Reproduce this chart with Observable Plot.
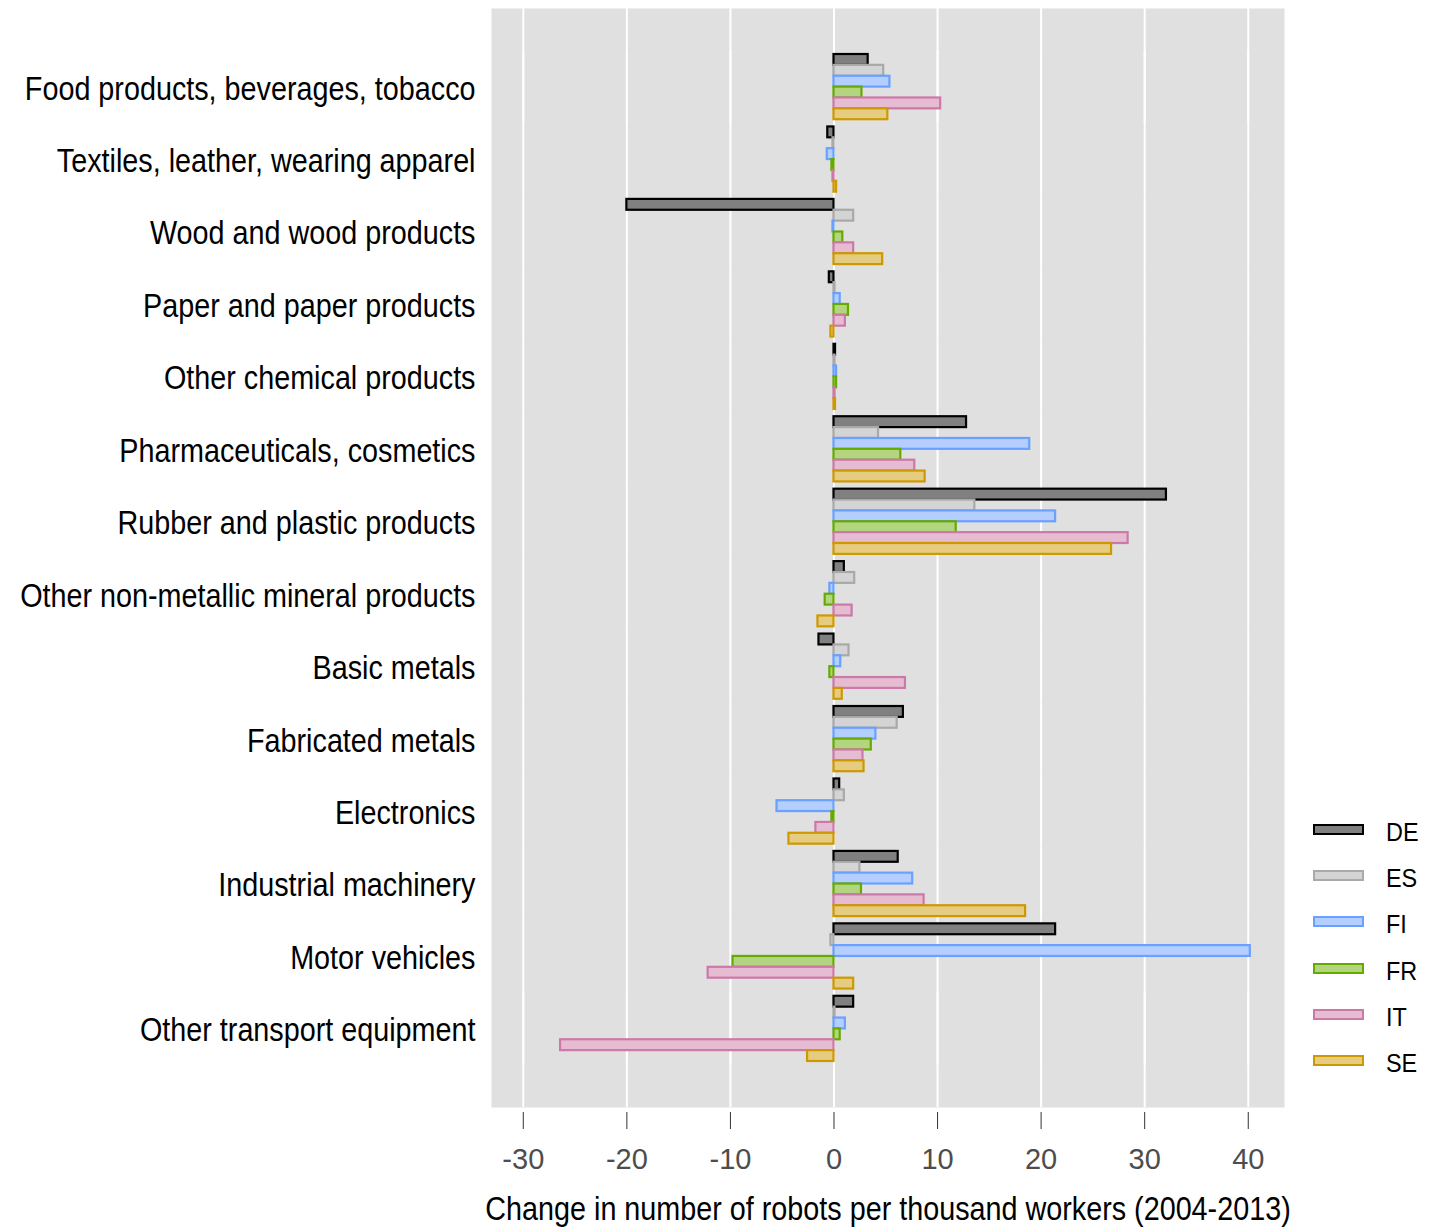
<!DOCTYPE html>
<html><head><meta charset="utf-8">
<script src="https://cdn.jsdelivr.net/npm/d3@7"></script>
<script src="https://cdn.jsdelivr.net/npm/@observablehq/plot@0.6"></script>
<style>
body{margin:0;background:#fff;}
#wrap{position:relative;width:1437px;height:1230px;font-family:"Liberation Sans",Arial,sans-serif;}
#chart{position:absolute;left:0;top:0;}
#legend{position:absolute;left:1313px;top:806px;}
.item{display:flex;align-items:center;height:46.3px;}
.key{box-sizing:border-box;width:51px;height:11px;border:2px solid;margin-right:22px;}
.lab{font-size:26px;color:#000;transform:scaleX(0.9);transform-origin:left center;position:relative;top:3px;}
</style></head><body><div id="wrap"><div id="chart"></div><div id="legend"></div></div>
<script>
const categories = ["Food products, beverages, tobacco","Textiles, leather, wearing apparel","Wood and wood products","Paper and paper products","Other chemical products","Pharmaceuticals, cosmetics","Rubber and plastic products","Other non-metallic mineral products","Basic metals","Fabricated metals","Electronics","Industrial machinery","Motor vehicles","Other transport equipment"];
const countries = ["DE","ES","FI","FR","IT","SE"];
const strokeColors = ["#000000","#a9a9a9","#6aa0ff","#66aa00","#cc79a7","#cc9900"];
const fillColors = ["#808080","#d4d4d4","#b4cfff","#b3d580","#e6bcd3","#e6cc80"];
const xTicks = [-30,-20,-10,0,10,20,30,40];
const DE = [3.3,-0.6,-20.0,-0.45,0.15,12.8,32.1,1.0,-1.45,6.7,0.55,6.2,21.4,1.9];
const ES = [4.8,-0.1,1.9,0.1,0.1,4.3,13.6,2.0,1.45,6.1,1.0,2.5,-0.3,0.1];
const FI = [5.4,-0.65,-0.1,0.6,0.25,18.9,21.4,-0.4,0.65,4.05,-5.5,7.6,40.2,1.1];
const FR = [2.7,-0.2,0.85,1.4,0.25,6.45,11.8,-0.85,-0.4,3.6,-0.2,2.65,-9.75,0.6];
const IT = [10.3,-0.1,1.9,1.1,0.1,7.8,28.4,1.75,6.9,2.8,-1.75,8.7,-12.15,-26.4];
const SE = [5.2,0.25,4.7,-0.3,0.15,8.8,26.8,-1.55,0.8,2.9,-4.35,18.5,1.9,-2.55];
const xTitle = "Change in number of robots per thousand workers (2004-2013)";

const series = [DE, ES, FI, FR, IT, SE];
const rows = categories.flatMap((c, i) => countries.map((k, j) => ({category: c, country: k, value: series[j][i]})));
const strokeOf = Object.fromEntries(countries.map((k, j) => [k, strokeColors[j]]));
const fillOf = Object.fromEntries(countries.map((k, j) => [k, fillColors[j]]));

const W = 1437, H = 1230, mT = 8, mB = 123, mL = 491, mR = 153;
const fyOuter = 0.585;
const fyStep = (H - mT - mB) / (categories.length + 2 * fyOuter);
const outerPx = fyOuter * fyStep;
const firstGrid = xTicks.map(t => ({x: t, cat: categories[0]}));
const lastGrid = xTicks.map(t => ({x: t, cat: categories[categories.length - 1]}));
const narrow = 0.885;

const plot = Plot.plot({
  width: W, height: H,
  marginLeft: mL, marginRight: mR, marginTop: mT, marginBottom: mB,
  style: {fontFamily: '"Liberation Sans",Arial,sans-serif', background: "transparent"},
  x: {domain: [-33.07, 43.5]},
  fy: {domain: categories, paddingInner: 0, paddingOuter: fyOuter, round: false},
  y: {domain: countries, paddingInner: 0, paddingOuter: 1 / 3, round: false, axis: null},
  color: {type: "identity"},
  marks: [
    Plot.frame({facet: "super", fill: "#e0e0e0", stroke: "none", insetTop: -outerPx, insetBottom: -outerPx}),
    Plot.gridX({ticks: xTicks, stroke: "#ffffff", strokeOpacity: 1, strokeWidth: 2}),
    Plot.ruleX(firstGrid, {x: "x", fy: "cat", insetTop: -outerPx, stroke: "#ffffff", strokeWidth: 2}),
    Plot.ruleX(lastGrid, {x: "x", fy: "cat", insetBottom: -outerPx, stroke: "#ffffff", strokeWidth: 2}),
    Plot.barX(rows, {fy: "category", y: "country", x: "value", fill: d => fillOf[d.country], stroke: d => strokeOf[d.country], strokeWidth: 2.2}),
    Plot.axisX({ticks: xTicks, tickFormat: d => String(d), tickSize: 17, tickPadding: 19, fontSize: 29, color: "#4d4d4d", stroke: "#333333", label: null, dy: outerPx + 5}),
    Plot.axisFy({anchor: "left", tickSize: 0, tickPadding: 16, fontSize: 32.5, color: "#000", label: null, dy: 2}),
    Plot.text([xTitle], {facet: "super", text: d => d, frameAnchor: "bottom", lineAnchor: "top", dy: outerPx + 89, fontSize: 32.5, fill: "#000"})
  ]
});

// narrow the lettering horizontally around each text's own anchor (tick numbers keep normal width)
plot.querySelectorAll("text").forEach(t => {
  const g = t.closest("g[aria-label]");
  if (g && g.getAttribute("aria-label") === "x-axis tick label") return;
  const tr = t.getAttribute("transform");
  if (tr) t.setAttribute("transform", tr + ` scale(${narrow},1)`);
  else {
    const x = +(t.getAttribute("x") || 0), y = +(t.getAttribute("y") || 0);
    t.removeAttribute("x"); t.removeAttribute("y");
    t.setAttribute("transform", `translate(${x},${y}) scale(${narrow},1)`);
  }
});
document.getElementById("chart").append(plot);

const legend = d3.select("#legend");
countries.forEach((k, j) => {
  const it = legend.append("div").attr("class", "item");
  it.append("div").attr("class", "key").style("border-color", strokeColors[j]).style("background", fillColors[j]);
  it.append("div").attr("class", "lab").text(k);
});
</script></body></html>
